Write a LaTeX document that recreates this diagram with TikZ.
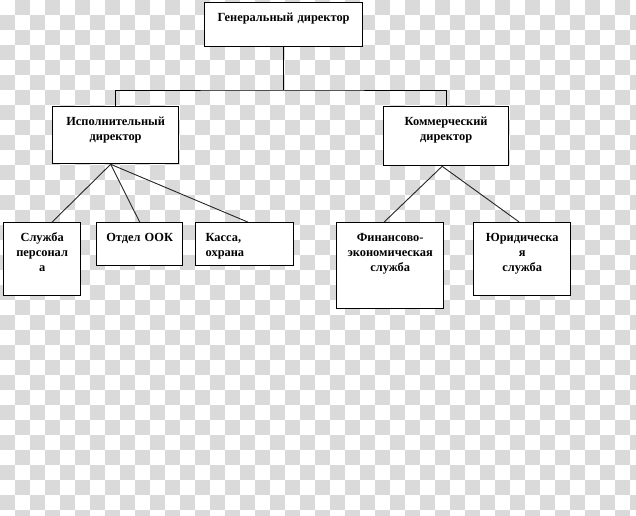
\documentclass[tikz,border=0pt]{standalone}
\usepackage{fontspec}
\setmainfont{Liberation Serif}
\usepackage{xcolor}
\usepackage{tikz}
\usetikzlibrary{calc}
\definecolor{chk}{RGB}{218,218,218}

\begin{document}
\begin{tikzpicture}[x=1pt,y=-1pt,
box/.style={draw,fill=white,line width=1.3pt,anchor=north west,inner xsep=0pt,inner ysep=0pt,align=center,font=\bfseries\fontsize{12.4}{15}\selectfont,text height=19pt},
link/.style={draw=black!85,line width=0.9pt}]
\useasboundingbox(0,0)rectangle(636,515);
\fill[white](0,0)rectangle(636,515);
\foreach \j in {0,2,...,34}{\foreach \i in {1,3,...,41}{\fill[chk](15*\i,15*\j)rectangle++(15,15);}}
\foreach \j in {1,3,...,33}{\foreach \i in {0,2,...,42}{\fill[chk](15*\i,15*\j)rectangle++(15,15);}}
\node[box,text width=158pt,text depth=25pt](gd)at(204,2){Генеральный директор};
\node[box,text width=126pt,text depth=38pt](ispd)at(52,106){Исполнительный\\директор};
\node[box,text width=125pt,text depth=40pt](komd)at(383,106){Коммерческий\\директор};
\node[box,text width=77pt,text depth=54pt](sp)at(3,222){Служба\\персонал\\а};
\node[box,text width=86pt,text depth=24pt](ook)at(96,222){Отдел ООК};
\node[box,text width=78pt,inner xsep=10pt,align=left,text depth=24pt](kassa)at(195,222){Касса,\\охрана};
\node[box,text width=107pt,text depth=67pt](fin)at(336,222){Финансово-\\экономическая\\служба};
\node[box,text width=97pt,text depth=54pt](jur)at(473,222){Юридическа\\я\\служба};
\coordinate(bus)at(0,90);
\draw[line width=1pt](gd.south)--(gd.south|-bus);
\draw[line width=1pt](ispd.north)|-(gd.south|-bus)-|(komd.north);
\draw[link]([xshift=-5pt]ispd.south)--([xshift=10pt]sp.north);
\draw[link]([xshift=-5pt]ispd.south)--(ook.north);
\draw[link]([xshift=-5pt]ispd.south)--([xshift=3pt]kassa.north);
\draw[link]([xshift=-4pt]komd.south)--([xshift=-6pt]fin.north);
\draw[link]([xshift=-4pt]komd.south)--([xshift=-3pt]jur.north);
\end{tikzpicture}
\end{document}
